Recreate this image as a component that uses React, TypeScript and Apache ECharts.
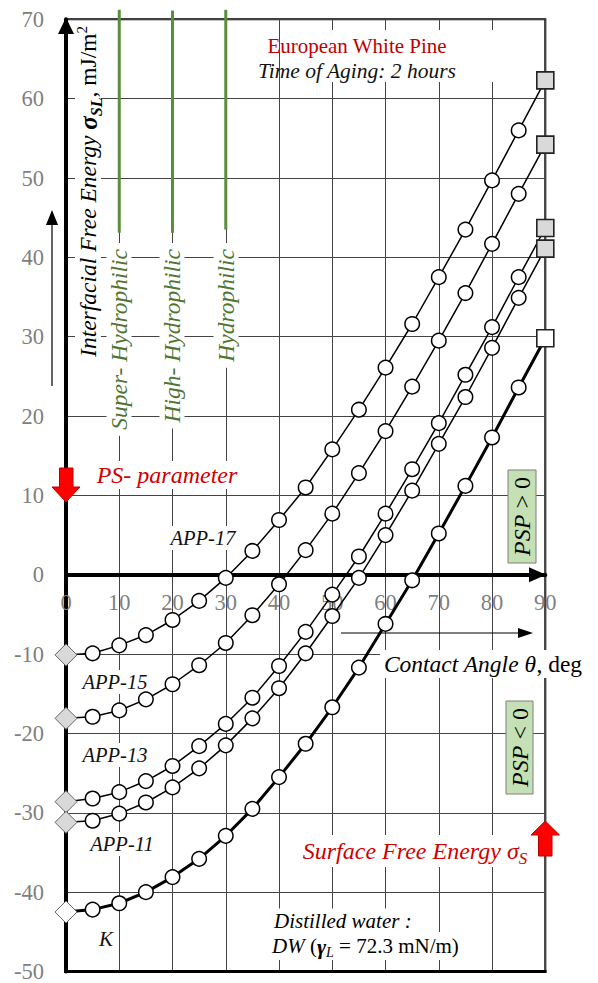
import React, { useEffect, useRef } from "react";
import * as echarts from "echarts";

// Contact angle θ (deg)
const angles = [0, 5, 10, 15, 20, 25, 30, 35, 40, 45, 50, 55, 60, 65, 70, 75, 80, 85, 90];
// Interfacial free energy σSL (mJ/m²)
const app17 = [-10.1, -9.9, -8.9, -7.6, -5.7, -3.3, -0.4, 3.0, 6.9, 11.0, 15.8, 20.8, 26.1, 31.6, 37.5, 43.5, 49.7, 56.0, 62.3];
const app15 = [-18.1, -17.9, -17.1, -15.7, -13.8, -11.4, -8.6, -5.1, -1.2, 3.1, 7.7, 12.8, 18.1, 23.7, 29.5, 35.5, 41.7, 48.0, 54.2];
const app13 = [-28.6, -28.2, -27.4, -26.0, -24.1, -21.6, -18.8, -15.5, -11.5, -7.2, -2.5, 2.3, 7.7, 13.3, 19.1, 25.2, 31.2, 37.5, 43.7];
const app11 = [-31.2, -31.0, -30.1, -28.7, -26.8, -24.4, -21.5, -18.1, -14.3, -9.9, -5.2, -0.4, 5.0, 10.6, 16.5, 22.4, 28.6, 34.9, 41.1];
const kSeries = [-42.5, -42.2, -41.4, -40.0, -38.1, -35.8, -32.9, -29.5, -25.5, -21.3, -16.7, -11.7, -6.2, -0.7, 5.2, 11.2, 17.3, 23.6, 29.8];

// Wettability zone boundary lines (green)
const zoneX = [10, 20, 30];
const zoneTop = [71.2, 71.1, 71.2];
const zoneBottom = [43.1, 43.1, 43.5];

const Y_MIN = -50;
const Y_MAX = 70;

const SERIF = '"Liberation Serif", "Times New Roman", serif';

const GRID_TOP = 19.3;
const GRID_BOTTOM = 11.5;
const H = 983;

type Piece = { text: string; font: string; fill?: string; dy?: number };

let measureCtx: CanvasRenderingContext2D | null = null;
function measure(font: string, text: string) {
  if (!measureCtx) measureCtx = document.createElement("canvas").getContext("2d");
  measureCtx!.font = font;
  return measureCtx!.measureText(text).width;
}

function pieceGroup(
  pieces: Piece[],
  x: number,
  y: number,
  align: "left" | "center" | "right",
  opts: { rotation?: number; bg?: boolean; padX?: number; boxH?: number; z?: number; fill?: string } = {}
) {
  const z = opts.z ?? 1;
  const widths = pieces.map((p) => measure(p.font, p.text));
  const W = widths.reduce((a, b) => a + b, 0);
  let sx = align === "left" ? 0 : align === "center" ? -W / 2 : -W;
  const children: any[] = [];
  const padX = opts.padX ?? 3;
  const boxH = opts.boxH ?? 26;
  if (opts.bg) {
    children.push({
      type: "rect",
      z,
      shape: { x: sx - padX, y: -boxH / 2, width: W + 2 * padX, height: boxH },
      style: { fill: "#fff" },
    });
  }
  pieces.forEach((p, i) => {
    children.push({
      type: "text",
      z: z + 0.5,
      x: sx,
      y: p.dy ?? 0,
      style: { text: p.text, font: p.font, fill: p.fill ?? opts.fill ?? "#000", align: "left", verticalAlign: "middle" },
    });
    sx += widths[i];
  });
  return { type: "group", x, y, rotation: opts.rotation ?? 0, z, children };
}

function buildSeries(name: string, ys: number[], lineWidth: number, endFill: string) {
  const last = ys.length - 1;
  return {
    name,
    type: "line",
    z: 3,
    lineStyle: { color: "#000", width: lineWidth },
    data: ys.map((y, i) => {
      const base: any = { value: [angles[i], y] };
      if (i === 0) {
        base.symbol = "diamond";
        base.symbolSize = [22, 22];
        base.itemStyle = { color: endFill, borderColor: "#666", borderWidth: 1 };
      } else if (i === last) {
        base.symbol = "rect";
        base.symbolSize = 17;
        base.itemStyle = { color: endFill, borderColor: "#222", borderWidth: 1.6 };
      } else {
        base.symbol = "circle";
        base.symbolSize = 14.5;
        base.itemStyle = { color: "#fff", borderColor: "#000", borderWidth: 1.5 };
      }
      return base;
    }),
  };
}

function label(x: number, y: number, text: string, size = 20.5, extra: any = {}) {
  return {
    type: "text",
    x,
    y,
    z: 1,
    style: {
      text,
      font: `italic ${size}px ${SERIF}`,
      fill: "#111",
      align: "center",
      verticalAlign: "middle",
      backgroundColor: "#fff",
      padding: [2, 3],
      ...extra,
    },
  };
}

function vText(x: number, yTop: number, text: string, fill: string, size: number) {
  return {
    type: "text",
    x,
    y: yTop,
    z: 1,
    rotation: Math.PI / 2,
    style: {
      text,
      font: `italic ${size}px ${SERIF}`,
      fill,
      align: "right",
      verticalAlign: "middle",
      backgroundColor: "#fff",
      padding: [1, 6],
    },
  };
}

export default function App() {
  const ref = useRef<HTMLDivElement>(null);
  useEffect(() => {
    document.body.style.margin = "0";
    const chart = echarts.init(ref.current!, undefined, { renderer: "svg" });

    const gridH = H - GRID_TOP - GRID_BOTTOM;
    const zeroFromBottom = (gridH * (0 - Y_MIN)) / (Y_MAX - Y_MIN);
    const zeroY = H - GRID_BOTTOM - zeroFromBottom;

    const series: any[] = [
      buildSeries("APP-17", app17, 1.5, "#d9d9d9"),
      buildSeries("APP-15", app15, 1.5, "#d9d9d9"),
      buildSeries("APP-13", app13, 1.5, "#d9d9d9"),
      buildSeries("APP-11", app11, 1.5, "#d9d9d9"),
      buildSeries("K", kSeries, 3, "#ffffff"),
    ];
    zoneX.forEach((x, i) => {
      series.push({
        type: "line",
        z: 2,
        silent: true,
        clip: false,
        symbol: "none",
        lineStyle: { color: "#5b8d3c", width: 3 },
        data: [
          [x, zoneTop[i]],
          [x, zoneBottom[i]],
        ],
      });
    });

    const it = (s: number, w = "") => `italic ${w} ${s}px ${SERIF}`;
    const up = (s: number) => `${s}px ${SERIF}`;

    const graphic: any[] = [
      // title box
      { type: "rect", z: 1, shape: { x: 288, y: 30, width: 215, height: 52 }, style: { fill: "#fff" } },
      {
        type: "text", x: 357, y: 46, z: 2,
        style: { text: "European White Pine", font: `21px ${SERIF}`, fill: "#c00000", align: "center", verticalAlign: "middle" },
      },
      {
        type: "text", x: 357, y: 71, z: 2,
        style: { text: "Time of Aging: 2 hours", font: `italic 21.5px ${SERIF}`, fill: "#111", align: "center", verticalAlign: "middle" },
      },
      // y axis title (rotated, reads bottom-to-top)
      pieceGroup(
        [
          { text: "Interfacial Free Energy ", font: it(23.5) },
          { text: "σ", font: it(25, "bold") },
          { text: "SL", font: it(16, "bold"), dy: 8 },
          { text: ", mJ/m", font: up(23.5) },
          { text: "2", font: up(15), dy: -6 },
        ],
        88,
        26,
        "right",
        { rotation: Math.PI / 2, bg: true, padX: 3, boxH: 26 }
      ),
      vText(119, 243, "Super- Hydrophilic", "#4f7531", 23.5),
      vText(172, 243, "High- Hydrophilic", "#4f7531", 23.5),
      vText(226, 243, "Hydrophilic", "#4f7531", 23.5),
      label(167, 475, "PS- parameter", 24, { fill: "#d00000" }),
      label(203, 538, "APP-17"),
      label(115, 682, "APP-15"),
      label(115, 755, "APP-13"),
      label(122, 844, "APP-11"),
      label(106, 939, "K", 21),
      // contact angle
      pieceGroup(
        [
          { text: "Contact Angle θ", font: it(23.5) },
          { text: ", deg", font: up(23.5) },
        ],
        483,
        664,
        "center",
        { bg: true, padX: 4, boxH: 28 }
      ),
      // surface free energy
      pieceGroup(
        [
          { text: "Surface Free Energy σ", font: it(24) },
          { text: "S", font: it(17), dy: 7 },
        ],
        415,
        851,
        "center",
        { bg: true, padX: 3, boxH: 32, fill: "#d00000" }
      ),
      // distilled water
      {
        type: "text", x: 272, y: 921, z: 1,
        style: {
          text: "Distilled water :", font: `italic 21px ${SERIF}`, fill: "#000",
          align: "left", verticalAlign: "middle", backgroundColor: "#fff", padding: [2, 2],
        },
      },
      pieceGroup(
        [
          { text: "DW ", font: it(21) },
          { text: "(", font: up(21) },
          { text: "γ", font: it(22, "bold") },
          { text: "L", font: it(14), dy: 6 },
          { text: " = 72.3 mN/m)", font: up(21) },
        ],
        272,
        946,
        "left",
        { bg: true, padX: 2, boxH: 28 }
      ),
      // PSP boxes
      { type: "rect", z: 4, shape: { x: 508, y: 470, width: 28, height: 93 }, style: { fill: "#c5e0b4", stroke: "#7f7f7f", lineWidth: 1 } },
      pieceGroup(
        [
          { text: "PSP", font: it(24) },
          { text: " > 0", font: up(24) },
        ],
        522,
        516.5,
        "center",
        { rotation: Math.PI / 2, z: 5 }
      ),
      { type: "rect", z: 4, shape: { x: 506, y: 701, width: 27, height: 93 }, style: { fill: "#c5e0b4", stroke: "#7f7f7f", lineWidth: 1 } },
      pieceGroup(
        [
          { text: "PSP", font: it(24) },
          { text: " < 0", font: up(24) },
        ],
        519.5,
        747.5,
        "center",
        { rotation: Math.PI / 2, z: 5 }
      ),
      // thin arrows
      { type: "line", z: 5, shape: { x1: 52, y1: 386, x2: 52, y2: 222 }, style: { stroke: "#333", lineWidth: 1.5 } },
      { type: "polygon", z: 5, shape: { points: [[52, 210], [46, 225], [58, 225]] }, style: { fill: "#000" } },
      { type: "line", z: 5, shape: { x1: 341, y1: 633, x2: 522, y2: 633 }, style: { stroke: "#000", lineWidth: 1.2 } },
      { type: "polygon", z: 5, shape: { points: [[533, 633], [518, 628], [518, 638]] }, style: { fill: "#000" } },
      // red block arrows
      {
        type: "polygon", z: 6,
        shape: { points: [[59.5, 468], [73, 468], [73, 487], [80, 487], [66, 502], [52, 487], [59.5, 487]] },
        style: { fill: "#ff0000", stroke: "#c00000", lineWidth: 1 },
      },
      {
        type: "polygon", z: 6,
        shape: { points: [[538.5, 856], [552, 856], [552, 835], [559.5, 835], [545.3, 821], [531, 835], [538.5, 835]] },
        style: { fill: "#ff0000", stroke: "#c00000", lineWidth: 1 },
      },
      // axis arrowheads
      { type: "polygon", z: 10, shape: { points: [[66, 17.5], [58, 34], [74, 34]] }, style: { fill: "#000" } },
      {
        type: "polygon", z: 10,
        shape: { points: [[546, zeroY], [529, zeroY - 7.5], [529, zeroY + 7.5]] },
        style: { fill: "#000" },
      },
      // thicker bottom border
      { type: "line", z: 10, shape: { x1: 64, y1: H - GRID_BOTTOM, x2: 546.5, y2: H - GRID_BOTTOM }, style: { stroke: "#000", lineWidth: 3 } },
    ];

    chart.setOption({
      animation: false,
      backgroundColor: "#fff",
      grid: {
        left: 66,
        right: 52.7,
        top: GRID_TOP,
        bottom: GRID_BOTTOM,
        containLabel: false,
        outerBoundsMode: "none",
        show: true,
        borderColor: "#000",
        borderWidth: 2,
        backgroundColor: "transparent",
      },
      xAxis: {
        type: "value",
        min: 0,
        max: 90,
        interval: 10,
        position: "bottom",
        offset: -zeroFromBottom,
        axisLine: { onZero: false, lineStyle: { color: "#000", width: 4 } },
        axisTick: { show: false },
        axisLabel: { color: "#7f7f7f", fontFamily: SERIF, fontSize: 22.5, margin: 16 },
        splitLine: { show: true, lineStyle: { color: "#444", width: 1 } },
      },
      yAxis: {
        type: "value",
        min: Y_MIN,
        max: Y_MAX,
        interval: 10,
        axisLine: { onZero: false, lineStyle: { color: "#000", width: 4 } },
        axisTick: { show: false },
        axisLabel: { color: "#7f7f7f", fontFamily: SERIF, fontSize: 22.5, margin: 22 },
        splitLine: { show: true, lineStyle: { color: "#444", width: 1 } },
      },
      series,
      graphic,
    });
    return () => chart.dispose();
  }, []);
  return <div ref={ref} style={{ width: 598, height: 983 }} />;
}
